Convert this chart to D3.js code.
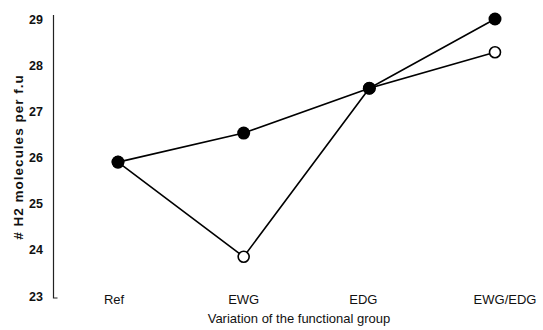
<!DOCTYPE html>
<html>
<head>
    <title>H2 molecules per f.u</title>
    <script src="https://d3js.org/d3.v7.min.js"></script>
    <style>
        body { margin: 0; background: #fff; }
        svg text { font-family: "Liberation Sans", Arial, sans-serif; fill: #111; }
    </style>
</head>
<body>
    <svg id="chart" width="543" height="330"></svg>
    <script>
        // data
        const groups = ["Ref", "EWG", "EDG", "EWG/EDG"];
        const filledValues = [25.9, 26.53, 27.5, 29.0];
        const openValues = [25.9, 23.85, 27.5, 28.28];
        const yTicks = [23, 24, 25, 26, 27, 28, 29];

        const svg = d3.select("svg#chart");
        const x = d3.scalePoint().domain(groups).range([118, 495]);
        const y = d3.scaleLinear().domain([23, 29]).range([296, 19]);

        // y axis: tick labels only, the line is drawn by hand
        const yAxis = svg.append("g")
            .attr("transform", "translate(53,0)")
            .call(d3.axisLeft(y).tickValues(yTicks).tickSize(0).tickPadding(10).tickFormat(d3.format("d")));
        yAxis.select(".domain").remove();
        yAxis.selectAll("text")
            .style("font-family", "'Liberation Sans', Arial, sans-serif")
            .style("font-size", "12.5px")
            .style("font-weight", "bold")
            .attr("fill", "#111");

        const p = d3.path();
        p.moveTo(53.5, y(29) - 4);
        p.lineTo(53.5, y(23) + 2);
        p.lineTo(57.5, y(23) + 2);
        svg.append("path")
            .attr("d", p.toString())
            .attr("fill", "none")
            .attr("stroke", "#222")
            .attr("stroke-width", 1.2);

        // category labels
        svg.append("g").selectAll("text")
            .data(groups)
            .join("text")
            .attr("x", (d, i) => x(d) + [-4, 0, -6, 10][i])
            .attr("y", 299)
            .attr("dy", "0.35em")
            .attr("text-anchor", "middle")
            .style("font-size", "13px")
            .text(d => d);

        svg.append("text")
            .attr("x", 299)
            .attr("y", 318)
            .attr("dy", "0.35em")
            .attr("text-anchor", "middle")
            .style("font-size", "13px")
            .text("Variation of the functional group");

        svg.append("text")
            .attr("transform", "translate(18,157) rotate(-90)")
            .attr("dy", "0.35em")
            .attr("text-anchor", "middle")
            .style("font-size", "13.5px")
            .style("font-weight", "bold")
            .style("letter-spacing", "1px")
            .text("# H2 molecules per f.u");

        const line = d3.line()
            .x((d, i) => x(groups[i]))
            .y(d => y(d));

        // open series first so the shared filled points sit on top
        svg.append("path")
            .attr("d", line(openValues))
            .attr("fill", "none")
            .attr("stroke", "#000")
            .attr("stroke-width", 1.6);

        svg.append("path")
            .attr("d", line(filledValues))
            .attr("fill", "none")
            .attr("stroke", "#000")
            .attr("stroke-width", 1.6);

        svg.append("g").selectAll("circle")
            .data(openValues)
            .join("circle")
            .attr("cx", (d, i) => x(groups[i]))
            .attr("cy", d => y(d))
            .attr("r", 5.5)
            .attr("fill", "#fff")
            .attr("stroke", "#000")
            .attr("stroke-width", 1.6);

        svg.append("g").selectAll("circle")
            .data(filledValues)
            .join("circle")
            .attr("cx", (d, i) => x(groups[i]))
            .attr("cy", d => y(d))
            .attr("r", 6.5)
            .attr("fill", "#000");
    </script>
</body>
</html>
